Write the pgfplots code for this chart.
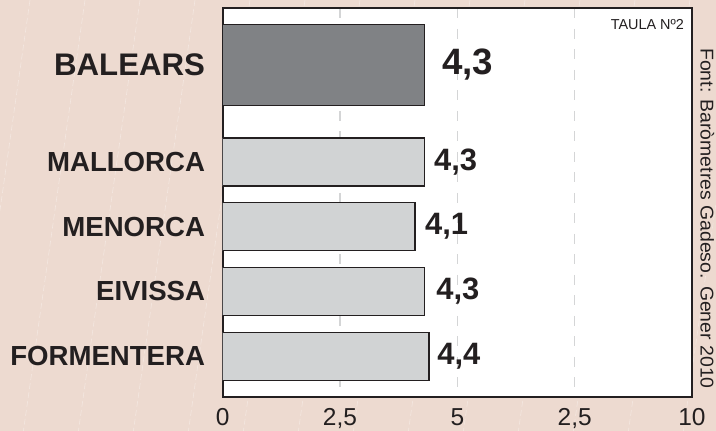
\documentclass[border=0pt]{standalone}
\usepackage{fontspec}
\setmainfont{Liberation Sans}
\usepackage{pgfplots}
\usepackage{pgfplotstable}
\pgfplotsset{compat=1.18}

\definecolor{bgpink}{RGB}{237,218,208}
\definecolor{ink}{RGB}{35,31,32}
\definecolor{darkbar}{RGB}{128,130,133}
\definecolor{lightbar}{RGB}{209,211,212}
\definecolor{gridgray}{RGB}{212,213,214}

% bar values; y = bar centre (picture px, top down)
\pgfplotstableread{
val pos
4.3 65
}\balears
\pgfplotstableread{
val pos
4.3 162
4.1 226.5
4.3 291.3
4.4 356.3
}\islands
% value labels
\pgfplotstableread{
x pos lab
4.67 65 4,3
}\balab
\pgfplotstableread{
x pos lab
4.50 162 4,3
4.31 226.5 4,1
4.55 291.3 4,3
4.57 356.3 4,4
}\islab

\begin{document}
\begin{tikzpicture}
\fill[bgpink] (0,0) rectangle (716pt,431pt);
\begin{scope}
  \clip (0,0) rectangle (716pt,431pt);
  \foreach \x in {30,85,...,800}
    \draw[white, opacity=0.35, line width=0.6pt, dash pattern=on 6pt off 3pt]
      (\x pt,431pt) -- ({(\x-61.6)*1pt},0pt);
\end{scope}

\begin{axis}[
  at={(222.7pt,34.3pt)}, anchor=south west,
  scale only axis, width=469.3pt, height=388.4pt,
  xmin=0, xmax=10, ymin=8.3, ymax=396.7, y dir=reverse,
  axis background/.style={fill=white},
  axis line style={line width=2pt, ink},
  xtick={0,2.5,5,7.5,10},
  xticklabels={0,{2,5},5,{2,5},10},
  ytick={65,162,226.5,291.3,356.3},
  yticklabels={{\fontsize{31.2}{31.2}\selectfont BALEARS},MALLORCA,MENORCA,EIVISSA,FORMENTERA},
  major tick length=0pt,
  xmajorgrids,
  x grid style={gridgray, line width=1.5pt, dash pattern=on 10pt off 10.5pt},
  xticklabel style={font=\fontsize{24.5}{24.5}\selectfont, text=ink, inner sep=0pt, anchor=base, yshift=-28.3pt},
  yticklabel style={font=\bfseries\fontsize{27.6}{27.6}\selectfont, text=ink, inner sep=0pt, anchor=east, xshift=-17.5pt},
  /pgf/number format/assume math mode=true,
]
\addplot[xbar, bar shift=0pt, bar width=81, fill=darkbar, draw=ink, line width=1.5pt]
  table[x=val, y=pos] {\balears};
\addplot[xbar, bar shift=0pt, bar width=48, fill=lightbar, draw=ink, line width=1.5pt]
  table[x=val, y=pos] {\islands};

\addplot[draw=none, mark=none, nodes near coords={\pgfplotspointmeta}, point meta=explicit symbolic,
  nodes near coords style={anchor=west, inner sep=0pt, text=ink, font=\bfseries\fontsize{36.7}{36.7}\selectfont}]
  table[x=x, y=pos, meta=lab] {\balab};
\addplot[draw=none, mark=none, nodes near coords={\pgfplotspointmeta}, point meta=explicit symbolic,
  nodes near coords style={anchor=west, inner sep=0pt, text=ink, font=\bfseries\fontsize{30.9}{30.9}\selectfont}]
  table[x=x, y=pos, meta=lab] {\islab};
\end{axis}

\node[anchor=base east, inner sep=0pt, text=ink, font=\fontsize{14.4}{14.4}\selectfont]
  at (684pt,401.7pt) {TAULA Nº2};
\node[rotate=-90, anchor=base west, inner sep=0pt, text=ink, font=\fontsize{18.5}{18.5}\selectfont]
  at (700.7pt,383pt) {\scalebox{1.05}[1]{Font: Baròmetres Gadeso. Gener 2010}};
\end{tikzpicture}
\end{document}
